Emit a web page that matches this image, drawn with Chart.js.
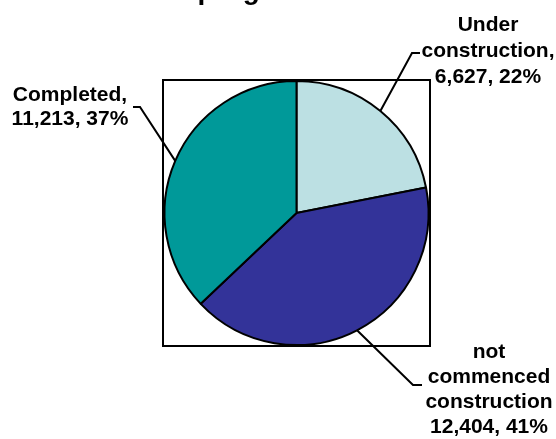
<!DOCTYPE html>
<html>
<head>
<meta charset="utf-8">
<script src="https://cdn.jsdelivr.net/npm/chart.js@4/dist/chart.umd.min.js"></script>
<style>
  html, body { margin: 0; padding: 0; background: #fff; }
</style>
</head>
<body>
<canvas id="myPieChart" width="556" height="439"></canvas>
<script>
const chartTitle = "Status of program";
const categories = [["Under", "construction,"], ["not", "commenced", "construction"], ["Completed,"]];
const dwellings = [6627, 12404, 11213];
const sliceColors = ["#BCE0E3", "#333399", "#009999"];

// label blocks: centre x, first baseline, line height, leader elbow and end
const labelLayout = [
  { x: 488, y: 31, lh: 26, elbow: [412, 53], end: [420, 53] },
  { x: 489, y: 358, lh: 25, elbow: [413, 385], end: [422, 385] },
  { x: 70, y: 101, lh: 24, elbow: [140, 107], end: [133, 107] },
];

const FONT = '"Liberation Sans", Arial, sans-serif';

const plotBox = {
  id: "plotBox",
  beforeDatasetsDraw(chart) {
    const a = chart.chartArea;
    const ctx = chart.ctx;
    ctx.save();
    ctx.strokeStyle = "#000";
    ctx.lineWidth = 2;
    ctx.strokeRect(a.left, a.top, a.right - a.left, a.bottom - a.top);
    ctx.restore();
  },
};

const pieLabels = {
  id: "pieLabels",
  afterDatasetsDraw(chart) {
    const ctx = chart.ctx;
    const meta = chart.getDatasetMeta(0);
    const total = dwellings.reduce((s, v) => s + v, 0);
    ctx.save();
    // title, mostly above the top of the picture
    ctx.fillStyle = "#000";
    ctx.font = "bold 28px " + FONT;
    ctx.textAlign = "left";
    ctx.textBaseline = "alphabetic";
    ctx.fillText(chartTitle, 70, -1);

    ctx.font = "bold 21px " + FONT;
    ctx.textAlign = "center";
    meta.data.forEach((arc, i) => {
      const lay = labelLayout[i];
      const mid = (arc.startAngle + arc.endAngle) / 2;
      const r = arc.outerRadius;
      ctx.beginPath();
      ctx.strokeStyle = "#000";
      ctx.lineWidth = 2;
      ctx.moveTo(arc.x + Math.cos(mid) * r, arc.y + Math.sin(mid) * r);
      ctx.lineTo(lay.elbow[0], lay.elbow[1]);
      ctx.lineTo(lay.end[0], lay.end[1]);
      ctx.stroke();

      const pct = Math.round((dwellings[i] / total) * 100);
      const lines = categories[i].concat([dwellings[i].toLocaleString("en-US") + ", " + pct + "%"]);
      lines.forEach((t, j) => ctx.fillText(t, lay.x, lay.y + j * lay.lh));
    });
    ctx.restore();
  },
};

const ctx = document.getElementById("myPieChart").getContext("2d");
const myPieChart = new Chart(ctx, {
  type: "pie",
  data: {
    labels: categories.map((c) => c.join(" ")),
    datasets: [
      {
        data: dwellings,
        backgroundColor: sliceColors,
        borderColor: "#000",
        borderWidth: 2,
      },
    ],
  },
  options: {
    responsive: false,
    animation: false,
    layout: {
      padding: { left: 163, top: 80, right: 126, bottom: 93 },
    },
    plugins: {
      legend: { display: false },
      title: { display: false },
      tooltip: { enabled: false },
    },
  },
  plugins: [plotBox, pieLabels],
});
</script>
</body>
</html>
